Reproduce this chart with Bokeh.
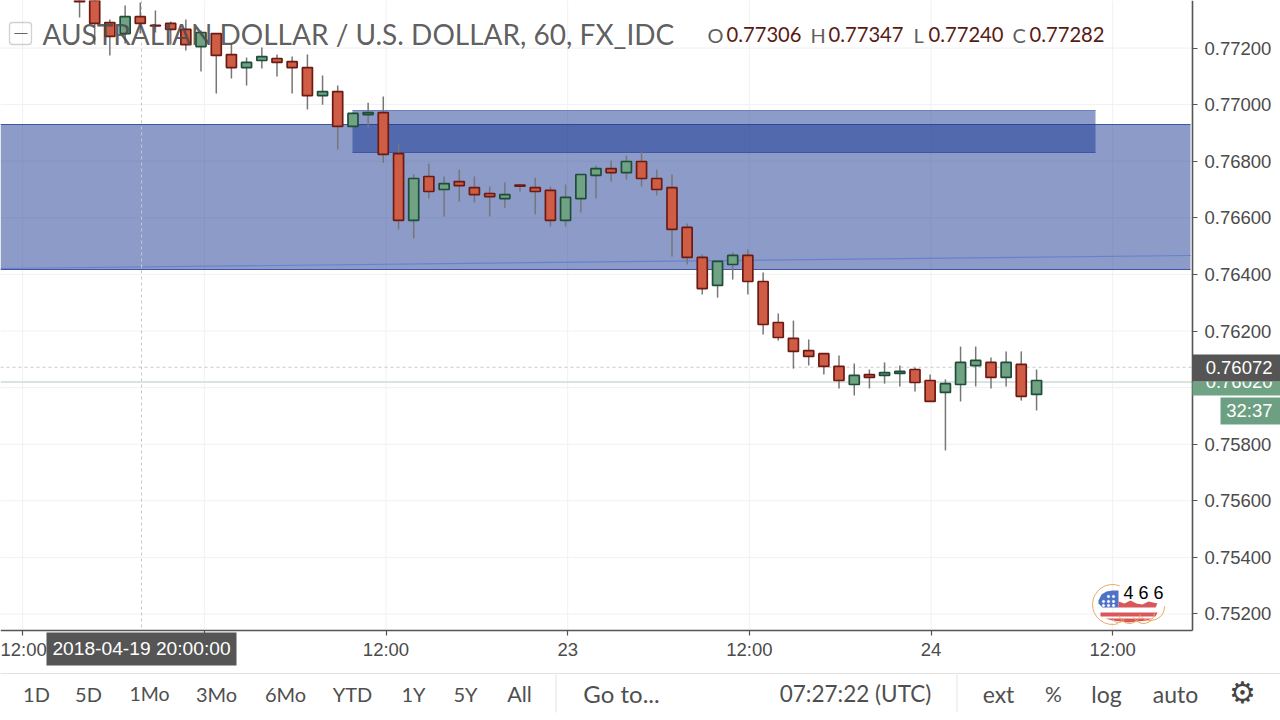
from bokeh.plotting import figure
from bokeh.embed import file_html
from bokeh.resources import INLINE
from bokeh.models import Label, BoxAnnotation, FixedTicker, ColumnDataSource, LinearAxis

hours = [-8.24,-7.24,-6.24,-5.23,-4.23,-3.23,-2.22,-1.22,-0.22,0.79,1.79,2.79,3.80,4.80,5.80,6.81,7.81,8.81,9.82,10.82,11.82,12.83,13.83,14.83,
         15.84,16.84,17.84,18.85,19.85,20.85,21.86,22.86,23.86,24.87,25.87,26.87,27.88,28.88,29.88,30.89,31.89,32.89,33.90,34.90,35.90,36.91,
         37.91,38.91,39.92,40.92,41.92,42.93,43.93,44.93,45.94,46.94,47.94,48.95,49.95,50.95,51.96,52.96,53.96,54.97]
opens = [0.77400,0.77403,0.77290,0.77251,0.77311,0.77280,0.77287,0.77266,0.77205,0.77251,0.77177,0.77131,0.77156,0.77163,0.77152,0.77131,
         0.77032,0.77046,0.76923,0.76965,0.76972,0.76827,0.76591,0.76746,0.76700,0.76728,0.76707,0.76686,0.76668,0.76716,0.76707,0.76697,
         0.76591,0.76668,0.76750,0.76774,0.76760,0.76799,0.76739,0.76707,0.76566,0.76460,0.76361,0.76435,0.76467,0.76375,0.76230,0.76174,
         0.76131,0.76120,0.76075,0.76011,0.76046,0.76043,0.76050,0.76064,0.76025,0.75983,0.76011,0.76078,0.76089,0.76036,0.76082,0.75976]
highs = [0.77420,0.77420,0.77301,0.77350,0.77361,0.77333,0.77294,0.77301,0.77262,0.77251,0.77216,0.77167,0.77202,0.77177,0.77170,0.77177,
         0.77103,0.77068,0.76972,0.77007,0.77029,0.76859,0.76753,0.76792,0.76746,0.76771,0.76746,0.76711,0.76725,0.76716,0.76742,0.76711,
         0.76718,0.76753,0.76785,0.76803,0.76820,0.76834,0.76771,0.76753,0.76580,0.76470,0.76446,0.76477,0.76488,0.76407,0.76262,0.76237,
         0.76170,0.76120,0.76113,0.76085,0.76064,0.76089,0.76078,0.76071,0.76046,0.76029,0.76145,0.76145,0.76106,0.76128,0.76128,0.76064]
lows = [0.77308,0.77212,0.77174,0.77216,0.77251,0.77255,0.77212,0.77191,0.77117,0.77039,0.77092,0.77068,0.77128,0.77099,0.77039,0.76983,
        0.77000,0.76841,0.76919,0.76916,0.76795,0.76559,0.76527,0.76668,0.76605,0.76658,0.76654,0.76605,0.76636,0.76693,0.76612,0.76569,
        0.76569,0.76619,0.76668,0.76728,0.76735,0.76711,0.76679,0.76463,0.76435,0.76329,0.76318,0.76382,0.76329,0.76188,0.76166,0.76067,
        0.76078,0.76046,0.75997,0.75972,0.75997,0.76014,0.76004,0.75986,0.75951,0.75778,0.75951,0.76004,0.75997,0.76004,0.75954,0.75919]
closes = [0.77364,0.77287,0.77241,0.77311,0.77287,0.77278,0.77266,0.77212,0.77255,0.77174,0.77131,0.77149,0.77170,0.77149,0.77131,0.77032,
          0.77046,0.76923,0.76969,0.76972,0.76824,0.76591,0.76739,0.76693,0.76721,0.76714,0.76682,0.76675,0.76682,0.76712,0.76693,0.76591,
          0.76672,0.76753,0.76774,0.76760,0.76799,0.76739,0.76700,0.76559,0.76460,0.76350,0.76446,0.76467,0.76375,0.76223,0.76177,0.76128,
          0.76110,0.76075,0.76025,0.76043,0.76036,0.76053,0.76057,0.76018,0.75951,0.76014,0.76089,0.76096,0.76036,0.76089,0.75969,0.76025]

y_ticks = [0.772,0.770,0.768,0.766,0.764,0.762,0.760,0.758,0.756,0.754,0.752]
x_ticks = [-12,0,12,24,36,48,60]
x_labels = ["12:00","","12:00","23","12:00","24","12:00"]
toolbar_items = ["1D","5D","1Mo","3Mo","6Mo","YTD","1Y","5Y","All","Go to...","07:27:22 (UTC)","ext","%","log","auto"]
toolbar_px = [36,88,149,216,285,352,413,465,519,621,855,998,1053,1106,1175]
toolbar_font = [20,20,19.5,20,20,20,20,20,21.5,24,22.5,23,21,23,23]

def xd(px): return 12 + (px - 385.5) / 15.14      # reference pixel -> hours
def yd(px): return (77368 - 3.534 * px) / 1e5     # reference pixel -> price

p = figure(width=1280, height=720, output_backend="svg", toolbar_location=None,
           x_range=(xd(0), xd(1280)), y_range=(yd(720), yd(0)), x_axis_location=None, y_axis_location=None,
           min_border_left=0, min_border_top=0, min_border_right=0, min_border_bottom=0,
           background_fill_color="white", border_fill_color="white", outline_line_color=None)
p.xgrid.visible = False; p.ygrid.visible = False

FONT = "Liberation Sans"; DARK = "#4b4b4b"; UI = "Lato"

# grid limited to the plot area
GRID = "#f1f1f1"
p.segment([xd(0)]*len(y_ticks), y_ticks, [xd(1192)]*len(y_ticks), y_ticks, line_color=GRID, line_width=1)
p.segment(x_ticks, [yd(0)]*len(x_ticks), x_ticks, [yd(630)]*len(x_ticks), line_color=GRID, line_width=1)

yaxis = LinearAxis(fixed_location=xd(1192), ticker=FixedTicker(ticks=y_ticks), bounds=(yd(630), yd(0)))
xaxis = LinearAxis(fixed_location=yd(630), ticker=FixedTicker(ticks=x_ticks), bounds=(xd(0), xd(1192)))
for ax in (yaxis, xaxis):
    ax.axis_line_color = "#555555"; ax.axis_line_width = 1.6
    ax.major_tick_line_color = "#555555"; ax.major_tick_line_width = 1.2
    ax.major_tick_in = 0; ax.major_tick_out = 5; ax.minor_tick_line_color = None
    ax.major_label_text_font = FONT; ax.major_label_text_font_size = "18.5px"
    ax.major_label_text_color = DARK
yaxis.major_label_standoff = 7
xaxis.major_label_standoff = 3
yaxis.major_label_overrides = {t: ("" if t == 0.760 else f"{t:.5f}") for t in y_ticks}
xaxis.major_label_overrides = dict(zip(x_ticks, x_labels))
p.add_layout(yaxis, "right")
p.add_layout(xaxis, "below")

# zones
ZONE = "#193791"; ZEDGE = "#3f55a5"
p.quad(left=xd(0), right=xd(1190), top=yd(124), bottom=yd(269), fill_color=ZONE, fill_alpha=0.5, line_color=None)
p.line([xd(0), xd(1190)], [yd(124), yd(124)], line_color=ZEDGE, line_width=1)
p.line([xd(0), xd(1190)], [yd(269), yd(269)], line_color=ZEDGE, line_width=1)
p.quad(left=xd(352), right=xd(1095), top=yd(110), bottom=yd(152), fill_color=ZONE, fill_alpha=0.5, line_color=None)
p.line([xd(352), xd(1095)], [yd(110), yd(110)], line_color="#6c7fbb", line_width=1)
p.line([xd(352), xd(1095)], [yd(152), yd(152)], line_color=ZEDGE, line_width=1)
p.line([xd(0), xd(1190)], [yd(268), yd(255)], line_color="#6a80cf", line_width=1.2)

# crosshair and price lines
p.line([xd(141), xd(141)], [yd(0), yd(630)], line_color="#c8c8c8", line_dash="3 3", line_width=1)
p.line([xd(0), xd(1192)], [0.76072, 0.76072], line_color="#c8c8c8", line_dash="3 3", line_width=1)
p.line([xd(0), xd(1192)], [0.76020, 0.76020], line_color="#dbe3de", line_width=2)

# candles
up = [c >= o for o, c in zip(opens, closes)]
src = ColumnDataSource(dict(h=hours, hi=highs, lo=lows,
    top=[max(o, c) for o, c in zip(opens, closes)],
    bot=[min(o, c) for o, c in zip(opens, closes)],
    fill=["#6fa383" if u else "#cf5c44" for u in up],
    edge=["#1f4d38" if u else "#6b1a14" for u in up]))
p.segment("h", "hi", "h", "lo", source=src, line_color="#777777", line_width=1.5)
p.vbar(x="h", width=0.66, top="top", bottom="bot", source=src, fill_color="fill", line_color="edge", line_width=1.7)

# logo
p.patch([xd(v) for v in (1098,1101,1106,1112,1118,1118,1102,1098)], [yd(v) for v in (600,594,591,590,590,607,607,603)], fill_color="#4d72c8", line_color=None)
p.scatter([xd(v) for v in (1103,1108,1113,1103,1108,1113,1108,1113)], [yd(v) for v in (601,601,601,605,605,605,596,596)], size=2.2, color="white")
p.patch([xd(v) for v in (1118,1124,1130,1136,1142,1148,1157,1155,1118)], [yd(v) for v in (601,603,600,603,604,601,603,607,607)], fill_color="#d9565a", line_color=None)
p.patch([xd(v) for v in (1100,1157,1155,1100)], [yd(v) for v in (612,612,616,616)], fill_color="#d9565a", line_color=None)
p.patch([xd(v) for v in (1105,1152,1146,1128,1112)], [yd(v) for v in (618,618,620,622,620)], fill_color="#d9565a", line_color=None)
for cx, cy, r, a0, a1 in [(1112,604,20,1.2,5.0),(1118,616,6,3.4,6.0),(1129,612,11,3.4,6.1),(1143,612,11,3.6,6.2),(1150,606,14,4.0,6.3)]:
    p.arc(x=[xd(cx)], y=[yd(cy)], radius=r, radius_units="screen", start_angle=a0, end_angle=a1, line_color="#e9ab63", line_width=1)

def box(x0, x1, y0, y1, color):
    p.add_layout(BoxAnnotation(left=xd(x0), right=xd(x1), top=yd(y0), bottom=yd(y1), fill_color=color, fill_alpha=1, line_color=None, level="annotation"))
def text(s, x, y, size, color=DARK, font=FONT, align="center", alpha=1.0):
    p.add_layout(Label(x=xd(x), y=yd(y), text=s, text_font=font, text_font_size=f"{size}px", text_color=color,
                       text_align=align, text_baseline="middle", text_alpha=alpha, level="annotation"))

box(1192, 1280, 381, 395, "#6fa383"); text("0.76020", 1272, 381, 18.5, "white", align="right")
box(1192, 1280, 354, 381, "#555555"); text("0.76072", 1272, 367, 18.5, "white", align="right")
box(1220, 1280, 397, 424, "#6da082"); text("32:37", 1272, 410, 18.5, "white", align="right")
box(46, 236, 632, 665, "#555555"); text("2018-04-19 20:00:00", 141, 648, 19.2, "white")

# footer
box(0, 1280, 672.5, 673.5, "#e3e3e3")
box(555, 556, 674, 712, "#e3e3e3"); box(956, 957, 674, 712, "#e3e3e3")
for s, x, f in zip(toolbar_items, toolbar_px, toolbar_font):
    text(s, x, 693, f, "#4f4f4f", UI)
text("\u2699", 1242, 692, 30, "#444444", "DejaVu Sans")

# header
p.add_layout(BoxAnnotation(left=xd(9), right=xd(31), top=yd(22), bottom=yd(44), fill_alpha=0, line_color="#666666", line_width=1.3, border_radius=3, level="annotation"))
box(14, 27, 32.5, 33.5, "#666666")
text("AUSTRALIAN DOLLAR / U.S. DOLLAR, 60, FX_IDC", 42, 33, 28, "#4b4b4b", UI, "left", 0.9)
for s, x in (("O",707),("H",810),("L",913),("C",1012)):
    text(s, x, 34, 20, "#5f5f5f", UI, "left")
for s, x in (("0.77306",726),("0.77347",828),("0.77240",928),("0.77282",1029)):
    text(s, x, 34, 20.2, "#5a1a14", UI, "left")
text("4 6 6", 1143, 592, 18, "black", FONT)

open("out.html", "w").write(file_html(p, INLINE))
